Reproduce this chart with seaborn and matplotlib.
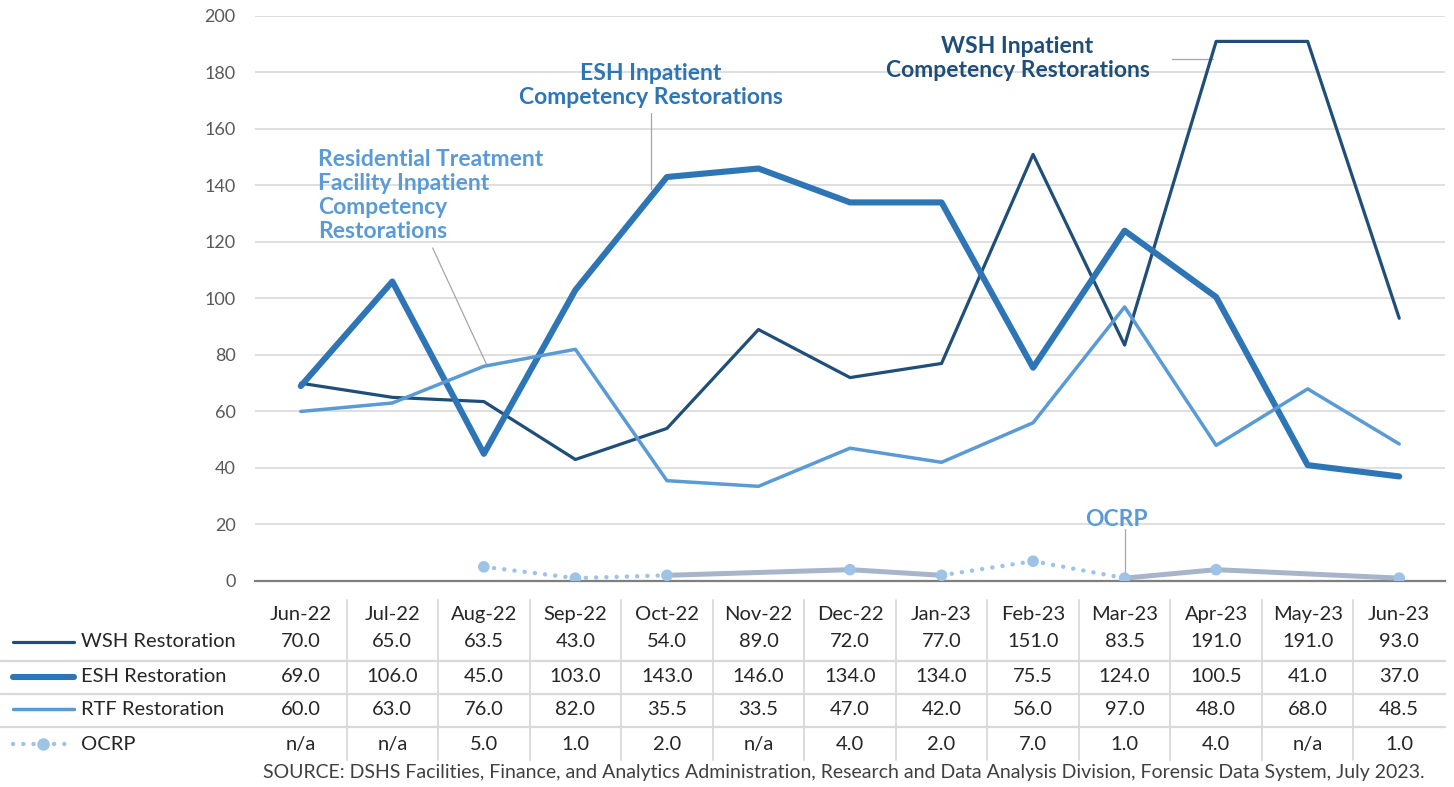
import numpy as np
import pandas as pd
import matplotlib.pyplot as plt
import matplotlib.transforms as mtransforms
from matplotlib.lines import Line2D
import seaborn as sns

months = ['Jun-22', 'Jul-22', 'Aug-22', 'Sep-22', 'Oct-22', 'Nov-22', 'Dec-22',
          'Jan-23', 'Feb-23', 'Mar-23', 'Apr-23', 'May-23', 'Jun-23']
wsh = [70.0, 65.0, 63.5, 43.0, 54.0, 89.0, 72.0, 77.0, 151.0, 83.5, 191.0, 191.0, 93.0]
esh = [69.0, 106.0, 45.0, 103.0, 143.0, 146.0, 134.0, 134.0, 75.5, 124.0, 100.5, 41.0, 37.0]
rtf = [60.0, 63.0, 76.0, 82.0, 35.5, 33.5, 47.0, 42.0, 56.0, 97.0, 48.0, 68.0, 48.5]
ocrp = [np.nan, np.nan, 5.0, 1.0, 2.0, np.nan, 4.0, 2.0, 7.0, 1.0, 4.0, np.nan, 1.0]
series_names = ['WSH Restoration', 'ESH Restoration', 'RTF Restoration', 'OCRP']

WSH_C, ESH_C, RTF_C = '#1F4E79', '#2E75B6', '#5B9BD5'
OCRP_C, OCRP_GRAY = '#9DC3E6', '#A7B5CB'
TXT = '#262626'

sns.set_theme(style='white')
plt.rcParams['font.family'] = ['Lato', 'DejaVu Sans']

pos = np.arange(len(months))
df = pd.DataFrame({'x': pos, 'wsh': wsh, 'esh': esh, 'rtf': rtf, 'ocrp': ocrp})

fig = plt.figure(figsize=(14.54, 7.87), dpi=100)
ax = fig.add_axes([0.1754, 0.2618, 0.8184, 0.7179])

sns.lineplot(data=df, x='x', y='wsh', color=WSH_C, lw=2.3, ax=ax)
sns.lineplot(data=df, x='x', y='esh', color=ESH_C, lw=4.4, ax=ax)
sns.lineplot(data=df, x='x', y='rtf', color=RTF_C, lw=2.5, ax=ax)

# OCRP: gray solid where the chart bridges gaps, dotted elsewhere
for a, b in [(4, 7), (9, 12)]:
    seg = df.iloc[a:b + 1].dropna(subset=['ocrp'])
    sns.lineplot(data=seg, x='x', y='ocrp', color=OCRP_GRAY, lw=3.6, ax=ax)
for a, b in [(2, 4), (7, 9)]:
    seg = df.iloc[a:b + 1]
    sns.lineplot(data=seg, x='x', y='ocrp', color=OCRP_C, lw=3.2,
                 linestyle=(0, (0.01, 2.3)), dash_capstyle='round', ax=ax)
sns.scatterplot(data=df.dropna(subset=['ocrp']), x='x', y='ocrp', color=OCRP_C,
                s=70, edgecolor='none', zorder=5, ax=ax)

ax.set_xlim(-0.5, 12.5)
ax.set_ylim(0, 200)
ax.set_yticks(range(0, 201, 20))
ax.set_xticks([])
ax.set_xlabel('')
ax.set_ylabel('')
ax.tick_params(axis='y', length=0, labelsize=13, labelcolor='#595959', pad=14)
ax.yaxis.grid(True, color='#D9D9D9', lw=1.2)
ax.set_axisbelow(True)
for s in ['top', 'left', 'right']:
    ax.spines[s].set_visible(False)
ax.spines['bottom'].set_color('#7F7F7F')
ax.spines['bottom'].set_linewidth(1.6)
ax.spines['bottom'].set_zorder(1)

# series call-outs with thin leader lines
lab = dict(fontsize=16.5, fontweight='bold', linespacing=1.17, va='center')
ax.text(7.83, 185, 'WSH Inpatient\nCompetency Restorations', ha='center', color=WSH_C, **lab)
ax.text(3.82, 175.3, 'ESH Inpatient\nCompetency Restorations', ha='center', color=ESH_C, **lab)
ax.text(0.19, 136.4, 'Residential Treatment\nFacility Inpatient\nCompetency\nRestorations',
        ha='left', color=RTF_C, multialignment='left', **lab)
ax.text(8.91, 21.6, 'OCRP', ha='center', color=RTF_C, **lab)
leaders = [([9.52, 9.97], [184.7, 184.7]), ([3.825, 3.825], [165.6, 138.8]),
           ([1.44, 2.03], [117.9, 76.6]), ([9.0, 9.0], [18.5, 3.0])]
for lx, ly in leaders:
    ax.plot(lx, ly, color='#A6A6A6', lw=0.9, zorder=1.5)

# data table under the chart
blend = mtransforms.blended_transform_factory(ax.transData, fig.transFigure)
row_y = [0.1843, 0.1398, 0.0991, 0.0546]
for i, m in enumerate(months):
    fig.text(i, 0.2186, m, transform=blend, ha='center', va='center', fontsize=14.5,
             color=TXT)
for vals, y in zip([wsh, esh, rtf, ocrp], row_y):
    for i, v in enumerate(vals):
        txt = 'n/a' if np.isnan(v) else f'{v:.1f}'
        fig.text(i, y, txt, transform=blend, ha='center', va='center', fontsize=14.5,
                 color=TXT)
for k in range(len(months) - 1):
    fig.add_artist(Line2D([k + 0.5, k + 0.5], [0.0343, 0.2376], transform=blend,
                          color='#D9D9D9', lw=1.3))
for y in [0.160, 0.1182, 0.0762]:
    fig.add_artist(Line2D([0.0, 0.9938], [y, y], transform=fig.transFigure,
                          color='#D9D9D9', lw=1.6))

keys = [dict(color=WSH_C, lw=2.3), dict(color=ESH_C, lw=4.4), dict(color=RTF_C, lw=2.5)]
for name, y, kw in zip(series_names[:3], row_y[:3], keys):
    fig.add_artist(Line2D([0.0089, 0.0509], [y, y], transform=fig.transFigure,
                          solid_capstyle='round', **kw))
    fig.text(0.0557, y, name, ha='left', va='center', fontsize=14.5, color=TXT)
fig.add_artist(Line2D([0.0089, 0.0509], [row_y[3]] * 2, transform=fig.transFigure,
                      color=OCRP_C, lw=3.2, linestyle=(0, (0.01, 2.3)),
                      dash_capstyle='round'))
fig.add_artist(Line2D([0.0299], [row_y[3]], transform=fig.transFigure, marker='o',
                      ms=9, color=OCRP_C, markeredgewidth=0))
fig.text(0.0557, row_y[3], series_names[3], ha='left', va='center', fontsize=14.5,
         color=TXT)

fig.text(0.5805, 0.0178, 'SOURCE: DSHS Facilities, Finance, and Analytics Administration, '
         'Research and Data Analysis Division, Forensic Data System, July 2023.',
         ha='center', va='center', fontsize=14, color='#404040')

fig.savefig('out.png', dpi=100)
